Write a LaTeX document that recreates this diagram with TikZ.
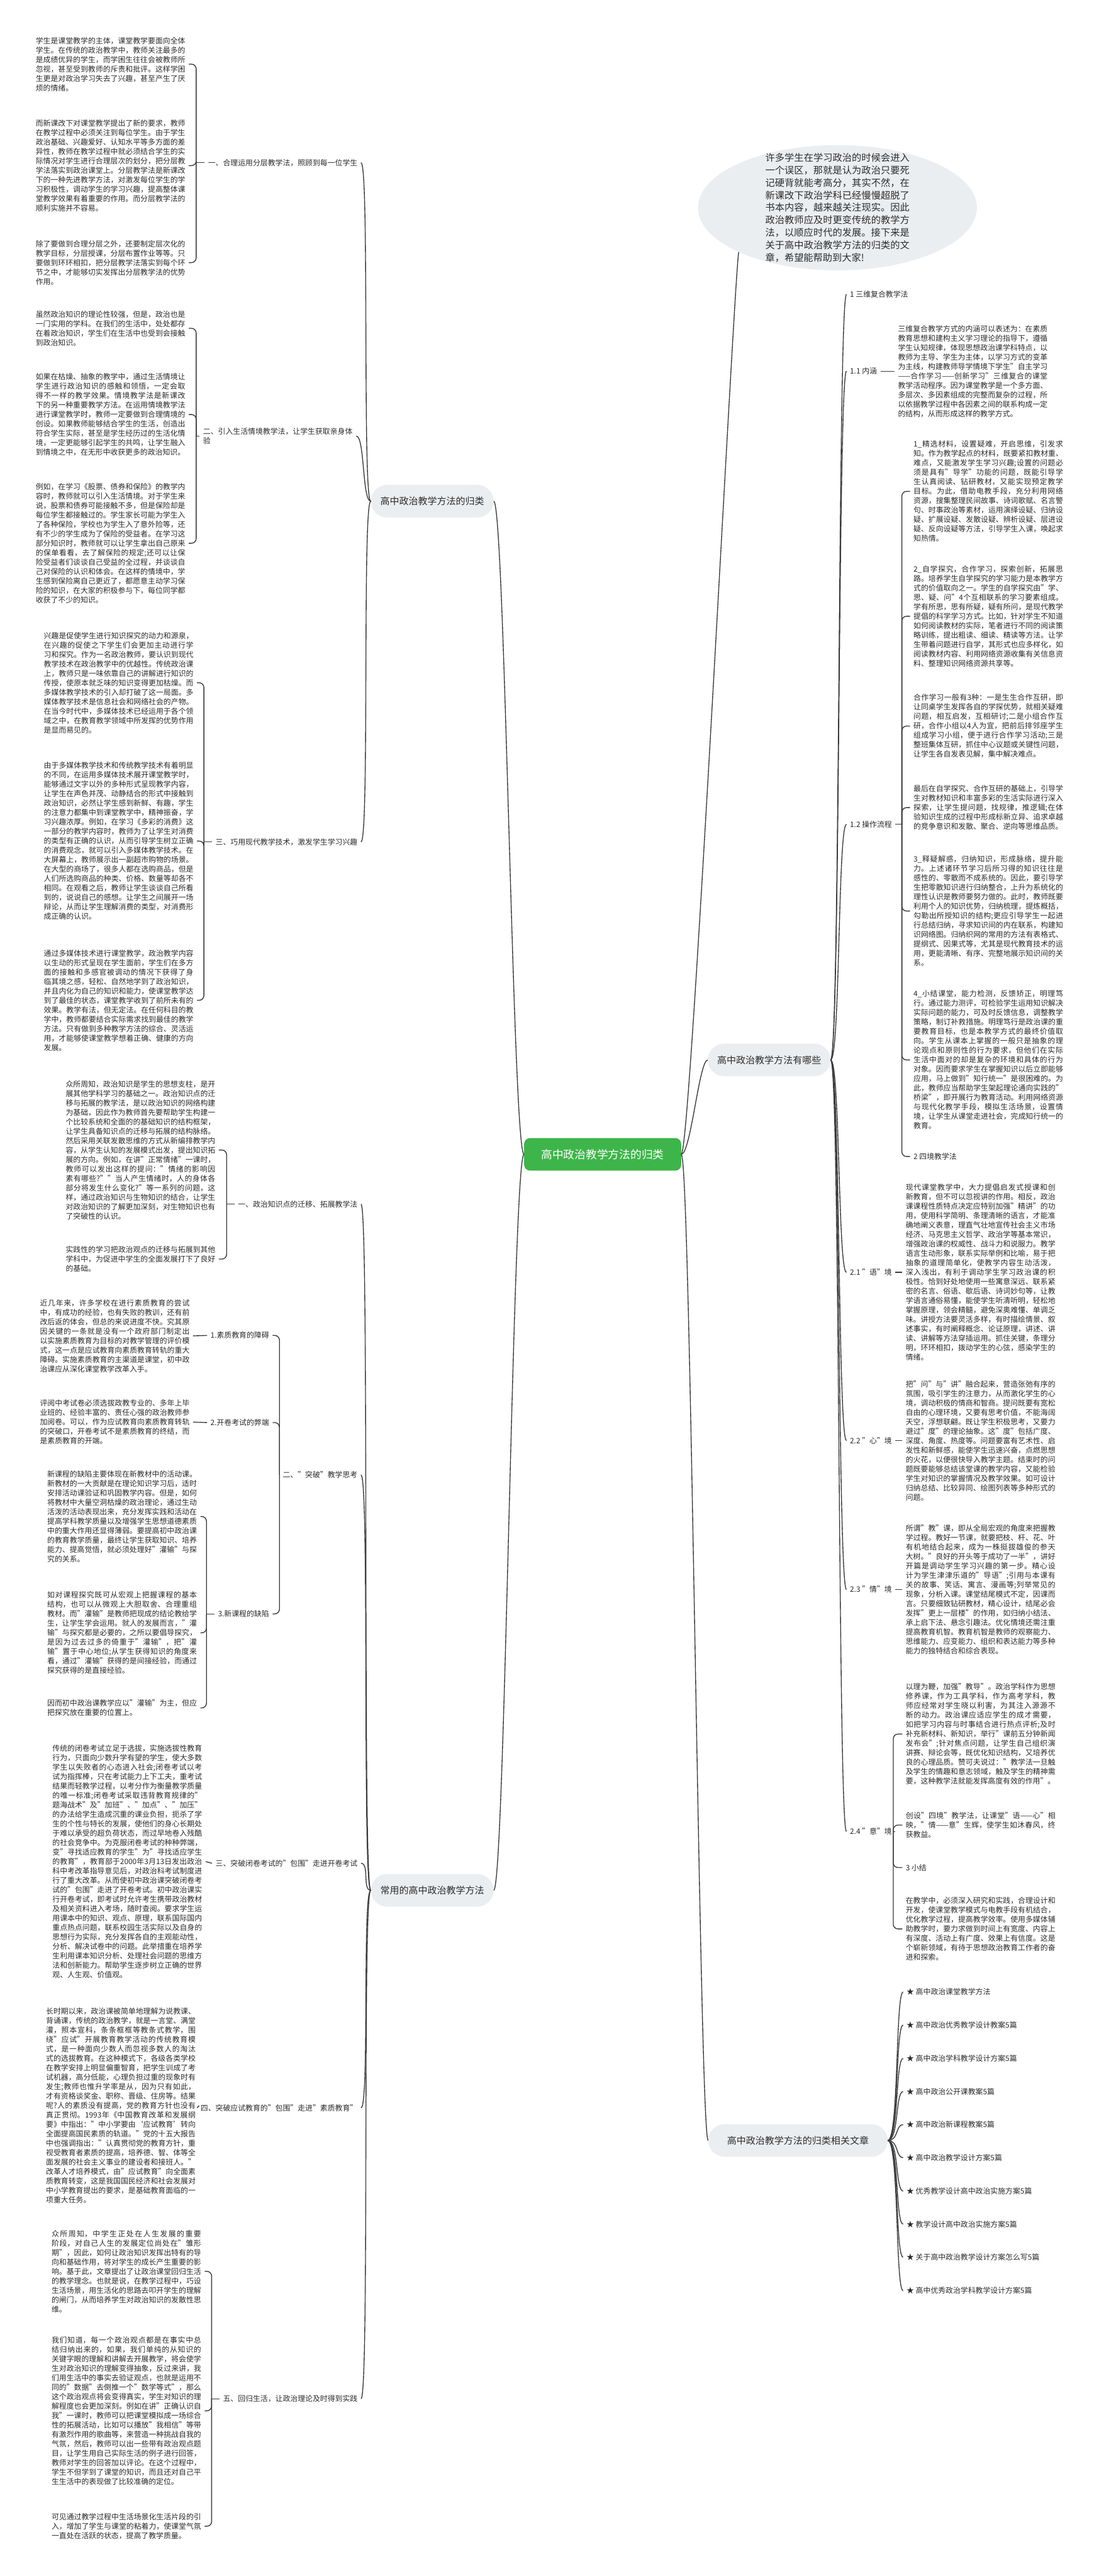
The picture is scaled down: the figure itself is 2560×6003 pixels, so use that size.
\documentclass[tikz,border=0pt]{standalone}
\usepackage{fontspec}
\setmainfont{Noto Sans CJK SC}
\XeTeXlinebreaklocale "zh"
\XeTeXlinebreakskip=0pt plus 1pt
\setlength{\parindent}{0pt}
\usetikzlibrary{shapes.geometric}
\definecolor{linegrey}{HTML}{3A3A3A}
\definecolor{topicgrey}{HTML}{EBEEF1}
\definecolor{rootgreen}{HTML}{3DB54A}
\definecolor{inkgrey}{HTML}{2B2B2B}
\tikzset{
  body text/.style={
    anchor=west,
    text width=348.5pt,
    align=justify,
    inner xsep=8pt,
    inner ysep=0pt,
    font=\fontsize{17.4}{22}\selectfont,
    text=inkgrey,
  },
  branch label/.style={
    inner xsep=8pt,
    inner ysep=2pt,
    font=\fontsize{17.4}{22}\selectfont,
    text=inkgrey,
  },
  topic node/.style={
    rounded corners=38pt,
    fill=topicgrey,
    minimum height=76pt,
    inner xsep=22pt,
    font=\fontsize{22}{26}\selectfont,
    text=inkgrey,
  },
  root node/.style={
    rounded corners=14pt,
    fill=rootgreen,
    minimum height=76pt,
    inner xsep=40pt,
    font=\fontsize{26}{30}\selectfont,
    text=white,
  },
  link/.style={draw=linegrey, line width=2pt},
  brace link/.style={link, rounded corners=11pt},
}

\begin{document}
\begin{tikzpicture}[x=1pt, y=-1pt]
      \fill[white] (0,0) rectangle (2560,6003);
      \useasboundingbox (0,0) rectangle (2560,6003);

      % central topic and main branches
      \node[root node] (root) at (1404,2690) {高中政治教学方法的归类};
      \node[topic node] (t1) at (1007,1168) {高中政治教学方法的归类};
      \node[topic node] (t2) at (1007,4405) {常用的高中政治教学方法};
      \node[topic node] (t3) at (1792,2470) {高中政治教学方法有哪些};
      \node[topic node, inner xsep=44pt] (t4) at (1859,4988) {高中政治教学方法的归类相关文章};
      \node[ellipse, fill=topicgrey, minimum width=650pt, minimum height=292pt, inner sep=0pt] (bubble) at (1951,484) {};
      \node[text width=336pt, align=justify, inner sep=0pt, font=\fontsize{22.3}{29}\selectfont, text=inkgrey] (intro) at (bubble.center) {许多学生在学习政治的时候会进入一个误区，那就是认为政治只要死记硬背就能考高分，其实不然，在新课改下政治学科已经慢慢超脱了书本内容，越来越关注现实。因此政治教师应及时更变传统的教学方法，以顺应时代的发展。接下来是关于高中政治教学方法的归类的文章，希望能帮助到大家!};

      % left branch: 高中政治教学方法的归类
      \node[branch label, anchor=east] (l1) at (841,379) {一、合理运用分层教学法，照顾到每一位学生};
      \node[body text, align=left, inner ysep=2pt] (l2) at (465,1016) {二、引入生活情境教学法，让学生获取亲身体验};
      \node[branch label, anchor=east] (l3) at (841,1962) {三、巧用现代教学技术，激发学生学习兴趣};

      \node[body text] (b1) at (75,149.5) {学生是课堂教学的主体，课堂教学要面向全体学生。在传统的政治教学中，教师关注最多的是成绩优异的学生，而学困生往往会被教师所忽视，甚至受到教师的斥责和批评。这样学困生更是对政治学习失去了兴趣，甚至产生了厌烦的情绪。};
      \node[body text] (b2) at (75,386) {而新课改下对课堂教学提出了新的要求，教师在教学过程中必须关注到每位学生。由于学生政治基础、兴趣爱好、认知水平等多方面的差异性，教师在教学过程中就必须结合学生的实际情况对学生进行合理层次的划分，把分层教学法落实到政治课堂上。分层教学法是新课改下的一种先进教学方法，对激发每位学生的学习积极性，调动学生的学习兴趣，提高整体课堂教学效果有着重要的作用。而分层教学法的顺利实施并不容易。};
      \node[body text] (b3) at (75,612) {除了要做到合理分层之外，还要制定层次化的教学目标，分层授课，分层布置作业等等。只要做到环环相扣，把分层教学法落实到每个环节之中，才能够切实发挥出分层教学法的优势作用。};
      \node[body text] (b4) at (75,765) {虽然政治知识的理论性较强，但是，政治也是一门实用的学科。在我们的生活中，处处都存在着政治知识，学生们在生活中也受到会接触到政治知识。};
      \node[body text] (b5) at (75,966) {如果在枯燥、抽象的教学中，通过生活情境让学生进行政治知识的感触和领悟，一定会取得不一样的教学效果。情境教学法是新课改下的另一种重要教学方法。在运用情境教学法进行课堂教学时，教师一定要做到合理情境的创设。如果教师能够结合学生的生活，创造出符合学生实际，甚至是学生经历过的生活化情境，一定更能够引起学生的共鸣，让学生融入到情境之中，在无形中收获更多的政治知识。};
      \node[body text] (b6) at (75,1266) {例如，在学习《股票、债券和保险》的教学内容时，教师就可以引入生活情境。对于学生来说，股票和债券可能接触不多，但是保险却是每位学生都接触过的。学生家长可能为学生入了各种保险，学校也为学生入了意外险等，还有不少的学生成为了保险的受益者。在学习这部分知识时，教师就可以让学生拿出自己原来的保单看看，去了解保险的规定;还可以让保险受益者们谈谈自己受益的全过程，并谈谈自己对保险的认识和体会。在这样的情境中，学生感到保险离自己更近了，都愿意主动学习保险的知识，在大家的积极参与下，每位同学都收获了不少的知识。};
      \node[body text] (b7) at (94,1591) {兴趣是促使学生进行知识探究的动力和源泉，在兴趣的促使之下学生们会更加主动进行学习和探究。作为一名政治教师，要认识到现代教学技术在政治教学中的优越性。传统政治课上，教师只是一味依靠自己的讲解进行知识的传授，使原本就乏味的知识变得更加枯燥。而多媒体教学技术的引入却打破了这一局面。多媒体教学技术是信息社会和网络社会的产物。在当今时代中，多媒体技术已经运用于各个领域之中，在教育教学领域中所发挥的优势作用是显而易见的。};
      \node[body text] (b8) at (94,1960) {由于多媒体教学技术和传统教学技术有着明显的不同，在运用多媒体技术展开课堂教学时，能够通过文字以外的多种形式呈现教学内容，让学生在声色并茂、动静结合的形式中接触到政治知识，必然让学生感到新鲜、有趣，学生的注意力都集中到课堂教学中，精神振奋，学习兴趣浓厚。例如，在学习《多彩的消费》这一部分的教学内容时，教师为了让学生对消费的类型有正确的认识，从而引导学生树立正确的消费观念，就可以引入多媒体教学技术。在大屏幕上，教师展示出一副超市购物的场景。在大型的商场了，很多人都在选购商品，但是人们所选购商品的种类、价格、数量等却各不相同。在观看之后，教师让学生谈谈自己所看到的，说说自己的感想。让学生之间展开一场辩论，从而让学生理解消费的类型，对消费形成正确的认识。};
      \node[body text] (b9) at (94,2331) {通过多媒体技术进行课堂教学，政治教学内容以生动的形式呈现在学生面前，学生们在多方面的接触和多感官被调动的情况下获得了身临其境之感，轻松、自然地学到了政治知识，并且内化为自己的知识和能力，使课堂教学达到了最佳的状态，课堂教学收到了前所未有的效果。教学有法，但无定法。在任何科目的教学中，教师都要结合实际需求找到最佳的教学方法。只有做到多种教学方法的综合、灵活运用，才能够使课堂教学想着正确、健康的方向发展。};

      % left branch: 常用的高中政治教学方法
      \node[branch label, anchor=east] (m1) at (841,2806) {一、政治知识点的迁移、拓展教学法};
      \node[branch label, anchor=east] (m2) at (841,3437) {二、"突破"教学思考};
      \node[branch label, anchor=east] (m21) at (635,3112) {1.素质教育的障碍};
      \node[branch label, anchor=east] (m22) at (635,3315) {2.开卷考试的弊端};
      \node[branch label, anchor=east] (m23) at (635,3761) {3.新课程的缺陷};
      \node[branch label, anchor=east] (m3) at (841,4342) {三、突破闭卷考试的"包围"走进开卷考试};
      \node[branch label, anchor=east] (m4) at (841,4912) {四、突破应试教育的"包围"走进"素质教育"};
      \node[branch label, anchor=east] (m5) at (841,5590) {五、回归生活，让政治理论及时得到实践};

      \node[body text] (b10) at (145,2680) {众所周知，政治知识是学生的思想支柱，是开展其他学科学习的基础之一。政治知识点的迁移与拓展的教学法，是以政治知识的网络构建为基础，因此作为教师首先要帮助学生构建一个比较系统和全面的的基础知识的结构框架，让学生具备知识点的迁移与拓展的结构脉络。然后采用关联发散思维的方式从新编排教学内容，从学生认知的发展模式出发，提出知识拓展的方向。例如，在讲"正常情绪"一课时，教师可以发出这样的提问："情绪的影响因素有哪些?""当人产生情绪时，人的身体各部分将发生什么变化?"等一系列的问题，这样，通过政治知识与生物知识的结合，让学生对政治知识的了解更加深刻，对生物知识也有了突破性的认识。};
      \node[body text] (b11) at (145,2934) {实践性的学习把政治观点的迁移与拓展到其他学科中，为促进中学生的全面发展打下了良好的基础。};
      \node[body text] (b12) at (85,3113) {近几年来，许多学校在进行素质教育的尝试中，有成功的经验，也有失败的教训，还有前改后返的体会，但总的来说进度不快。究其原因关键的一条就是没有一个政府部门制定出以实施素质教育为目标的对教学管理的评价模式，这一点是应试教育向素质教育转轨的重大障碍。实施素质教育的主渠道是课堂，初中政治课应从深化课堂教学改革入手。};
      \node[body text] (b13) at (85,3314) {评阅中考试卷必须选拔政教专业的、多年上毕业班的、经验丰富的、责任心强的政治教师参加阅卷。可以，作为应试教育向素质教育转轨的突破口，开卷考试不是素质教育的终结，而是素质教育的开端。};
      \node[body text] (b14) at (102,3534) {新课程的缺陷主要体现在新教材中的活动课。新教材的一大贡献是在理论知识学习后，适时安排活动课验证和巩固教学内容。但是，如何将教材中大量空洞枯燥的政治理论，通过生动活泼的活动表现出来，充分发挥实践和活动在提高学科教学质量以及增强学生思想道德素质中的重大作用还显得薄弱。要提高初中政治课的教育教学质量，最终让学生获取知识、培养能力、提高觉悟，就必须处理好"灌输"与探究的关系。};
      \node[body text] (b15) at (102,3805) {如对课程探究既可从宏观上把握课程的基本结构，也可以从微观上大胆取舍、合理重组教材。而"灌输"是教师把现成的结论教给学生，让学生学会运用。就人的发展而言，"灌输"与探究都是必要的，之所以要倡导探究，是因为过去过多的倚重于"灌输"，把"灌输"置于中心地位;从学生获得知识的角度来看，通过"灌输"获得的是间接经验，而通过探究获得的是直接经验。};
      \node[body text] (b16) at (102,3980) {因而初中政治课教学应以"灌输"为主，但应把探究放在重要的位置上。};
      \node[body text] (b17) at (114,4338) {传统的闭卷考试立足于选拔，实施选拔性教育行为，只面向少数升学有望的学生，使大多数学生以失败者的心态进入社会;闭卷考试以考试为指挥棒，只在考试能力上下工夫，重考试结果而轻教学过程，以考分作为衡量教学质量的唯一标准;闭卷考试采取违背教育规律的"题海战术"及"加班"、"加点"、"加压"的办法给学生造成沉重的课业负担，扼杀了学生的个性与特长的发展，使他们的身心长期处于难以承受的超负荷状态，而过早地卷入残酷的社会竞争中。为克服闭卷考试的种种弊端，变"寻找适应教育的学生"为"寻找适应学生的教育"，教育部于2000年3月13日发出政治科中考改革指导意见后，对政治科考试制度进行了重大改革。从而使初中政治课突破闭卷考试的"包围"走进了开卷考试。初中政治课实行开卷考试，即考试时允许考生携带政治教材及相关资料进入考场，随时查阅。要求学生运用课本中的知识、观点、原理，联系国际国内重点热点问题，联系校园生活实际以及自身的思想行为实际，充分发挥各自的主观能动性，分析、解决试卷中的问题。此举措重在培养学生利用课本知识分析、处理社会问题的思维方法和创新能力。帮助学生逐步树立正确的世界观、人生观、价值观。};
      \node[body text] (b18) at (99,4907) {长时期以来，政治课被简单地理解为说教课、背诵课，传统的政治教学，就是一言堂、满堂灌，照本宣科，条条框框等教条式教学，围绕"应试"开展教育教学活动的传统教育模式，是一种面向少数人而忽视多数人的淘汰式的选拔教育。在这种模式下，各级各类学校在教学安排上明显偏重智育，把学生训成了考试机器，高分低能，心理负担过重的现象时有发生;教师也惟升学率是从，因为只有如此，才有资格谈奖金、职称、晋级、住房等。结果呢?人的素质没有提高，党的教育方针也没有真正贯彻。1993年《中国教育改革和发展纲要》中指出："中小学要由‘应试教育’转向全面提高国民素质的轨道。"党的十五大报告中也强调指出："认真贯彻党的教育方针，重视受教育者素质的提高，培养德、智、体等全面发展的社会主义事业的建设者和接班人。"改革人才培养模式，由"应试教育"向全面素质教育转变，这是我国国民经济和社会发展对中小学教育提出的要求，是基础教育面临的一项重大任务。};
      \node[body text] (b19) at (112,5293) {众所周知，中学生正处在人生发展的重要阶段，对自己人生的发展定位尚处在"雏形期"，因此，如何让政治知识发挥出特有的导向和基础作用，将对学生的成长产生重要的影响。基于此，文章提出了让政治课堂回归生活的教学理念。也就是说，在教学过程中，巧设生活场景，用生活化的思路去叩开学生的理解的闸门，从而培养学生对政治知识的发散性思维。};
      \node[body text] (b20) at (112,5618) {我们知道，每一个政治观点都是在事实中总结归纳出来的，如果，我们单纯的从知识的关键字眼的理解和讲解去开展教学，将会使学生对政治知识的理解变得抽象，反过来讲，我们用生活中的事实去验证观点，也就是运用不同的"数据"去倒推一个"数学等式"，那么这个政治观点将会变得真实，学生对知识的理解程度也会更加深刻。例如在讲"正确认识自我"一课时，教师可以把课堂模拟成一场综合性的拓展活动，比如可以播放"我相信"等带有激烈作用的歌曲等，来营造一种挑战自我的气氛，然后，教师可以出一些带有政治观点题目，让学生用自己实际生活的例子进行回答，教师对学生的回答加以评论。在这个过程中，学生不但学到了课堂的知识，而且还对自己平生生活中的表现做了比较准确的定位。};
      \node[body text] (b21) at (112,5887) {可见通过教学过程中生活场景化生活片段的引入，增加了学生与课堂的粘着力，使课堂气氛一直处在活跃的状态，提高了教学质量。};

      % right branch: 高中政治教学方法有哪些
      \node[branch label, anchor=west] (r1) at (1972,686) {1 三维复合教学法};
      \node[branch label, anchor=west] (r11) at (1972,865) {1.1 内涵};
      \node[branch label, anchor=west] (r12) at (1972,1921) {1.2 操作流程};
      \node[branch label, anchor=west] (r2) at (2120,2695) {2 四境教学法};
      \node[branch label, anchor=west] (r21) at (1972,2965) {2.1 "语"境};
      \node[branch label, anchor=west] (r22) at (1972,3357) {2.2 "心"境};
      \node[branch label, anchor=west] (r23) at (1972,3704) {2.3 "情"境};
      \node[branch label, anchor=west] (r24) at (1972,4268) {2.4 "意"境};
      \node[branch label, anchor=west] (r3) at (2102,4352) {3 小结};

      \node[body text] (rb11) at (2084,865) {三维复合教学方式的内涵可以表述为：在素质教育思想和建构主义学习理论的指导下，遵循学生认知规律，体现思想政治课学科特点，以教师为主导、学生为主体，以学习方式的变革为主线，构建教师导学情境下学生"自主学习——合作学习——创新学习"三维复合的课堂教学活动程序。因为课堂教学是一个多方面、多层次、多因素组成的完整而复杂的过程，所以依据教学过程中各因素之间的联系构成一定的结构，从而形成这样的教学方式。};
      \node[body text] (rb1) at (2120,1145) {1\_精选材料，设置疑难，开启思维，引发求知。作为教学起点的材料，既要紧扣教材重、难点，又能激发学生学习兴趣;设置的问题必须是具有"导学"功能的问题，既能引导学生认真阅读、钻研教材，又能实现预定教学目标。为此，借助电教手段，充分利用网络资源，搜集整理民间故事、诗词歌赋、名言警句、时事政治等素材，运用演绎设疑、归纳设疑、扩展设疑、发散设疑、辨析设疑、层进设疑、反向设疑等方法，引导学生入课，唤起求知热情。};
      \node[body text] (rb2) at (2120,1436) {2\_自学探究，合作学习，探索创新，拓展思路。培养学生自学探究的学习能力是本教学方式的价值取向之一。学生的自学探究由"学、思、疑、问"4个互相联系的学习要素组成。学有所思，思有所疑，疑有所问，是现代教学提倡的科学学习方式。比如，针对学生不知道如何阅读教材的实际，笔者进行不同的阅读策略训练，提出粗读、细读、精读等方法。让学生带着问题进行自学，其形式也应多样化，如阅读教材内容、利用网络资源收集有关信息资料、整理知识网络资源共享等。};
      \node[body text] (rb3) at (2120,1692) {合作学习一般有3种：一是生生合作互研，即让同桌学生发挥各自的学探优势，就相关疑难问题，相互启发，互相研讨;二是小组合作互研，合作小组以4人为宜，把前后排邻座学生组成学习小组，便于进行合作学习活动;三是整班集体互研，抓住中心议题或关键性问题，让学生各自发表见解，集中解决难点。};
      \node[body text] (rb4) at (2120,1882) {最后在自学探究、合作互研的基础上，引导学生对教材知识和丰富多彩的生活实际进行深入探索，让学生提问题，找规律，推逻辑;在体验知识生成的过程中形成标新立异、追求卓越的竞争意识和发散、聚合、逆向等思维品质。};
      \node[body text] (rb5) at (2120,2123) {3\_释疑解惑，归纳知识，形成脉络，提升能力。上述诸环节学习后所习得的知识往往是感性的、零散而不成系统的。因此，要引导学生把零散知识进行归纳整合，上升为系统化的理性认识是教师要努力做的。此时，教师既要利用个人的知识优势，归纳梳理，提炼概括，勾勒出所授知识的结构;更应引导学生一起进行总结归纳，寻求知识间的内在联系，构建知识网络图。归纳织网的常用的方法有表格式、提纲式、因果式等，尤其是现代教育技术的运用，更能清晰、有序、完整地展示知识间的关系。};
      \node[body text] (rb6) at (2120,2470) {4\_小结课堂，能力检测，反馈矫正，明理笃行。通过能力测评，可检验学生运用知识解决实际问题的能力，可及时反馈信息，调整教学策略，制订补救措施。明理笃行是政治课的重要教育目标，也是本教学方式的最终价值取向。学生从课本上掌握的一般只是抽象的理论观点和原则性的行为要求，但他们在实际生活中面对的却是复杂的环境和具体的行为对象。因而要求学生在掌握知识以后立即能够应用，马上做到"知行统一"是很困难的。为此，教师应当帮助学生架起理论通向实践的"桥梁"，即开展行为教育活动。利用网络资源与现代化教学手段，模拟生活场景，设置情境，让学生从课堂走进社会，完成知行统一的教育。};
      \node[body text] (rb21) at (2102,2965) {现代课堂教学中，大力提倡启发式授课和创新教育，但不可以忽视讲的作用。相反，政治课课程性质特点决定应特别加强"精讲"的功用，使用科学简明、条理清晰的语言，才能准确地阐义表意，理直气壮地宣传社会主义市场经济、马克思主义哲学、政治学等基本常识，增强政治课的权威性、战斗力和说服力。教学语言生动形象，联系实际举例和比喻，易于把抽象的道理简单化，使教学内容生动活泼，深入浅出，有利于调动学生学习政治课的积极性。恰到好处地使用一些寓意深远、联系紧密的名言、俗语、歇后语、诗词妙句等，让教学语言通俗易懂，能使学生听清听明，轻松地掌握原理，领会精髓，避免深奥难懂、单调乏味。讲授方法要灵活多样，有时描绘情景、叙述事实，有时阐释概念、论证原理，讲述、讲读、讲解等方法穿插运用。抓住关键，条理分明，环环相扣，拨动学生的心弦，感染学生的情绪。};
      \node[body text] (rb22) at (2102,3357) {把"问"与"讲"融合起来，营造张弛有序的氛围，吸引学生的注意力，从而激化学生的心境，调动积极的情商和智商。提问既要有宽松自由的心理环境，又要有思考价值，不能海阔天空，浮想联翩。既让学生积极思考，又要力避过"度"的理论抽象。这"度"包括广度、深度、角度、热度等。问题要富有艺术性、启发性和新鲜感，能使学生迅速兴奋，点燃思想的火花，以便很快导入教学主题。结束时的问题既要能够总结该堂课的教学内容，又能检验学生对知识的掌握情况及教学效果。如可设计归纳总结、比较异同、绘图列表等多种形式的问题。};
      \node[body text] (rb23) at (2102,3704) {所谓"教"课，即从全局宏观的角度来把握教学过程。教好一节课，就要把枝、杆、花、叶有机地结合起来，成为一株挺拔雄俊的参天大树。"良好的开头等于成功了一半"，讲好开篇是调动学生学习兴趣的第一步。精心设计为学生津津乐道的"导语";引用与本课有关的故事、笑话、寓言、漫画等;列举常见的现象，分析入课。课堂结尾模式不定，因课而言。只要细致钻研教材，精心设计，结尾必会发挥"更上一层楼"的作用，如归纳小结法、承上启下法、悬念引趣法。优化情境还需注重提高教育机智。教育机智是教师的观察能力、思维能力、应变能力、组织和表达能力等多种能力的独特结合和综合表现。};
      \node[body text] (rs1) at (2102,4041) {以理为鞭，加强"教导"。政治学科作为思想修养课，作为工具学科，作为高考学科，教师应经常对学生晓以利害，为其注入源源不断的动力。政治课应适应学生的成才需要，如把学习内容与时事结合进行热点评析;及时补充新材料、新知识，举行"课前五分钟新闻发布会";针对焦点问题，让学生自己组织演讲赛、辩论会等，既优化知识结构，又培养优良的心理品质。赞可夫说过："教学法一旦触及学生的情趣和意志领域，触及学生的精神需要，这种教学法就能发挥高度有效的作用"。};
      \node[body text] (rs2) at (2102,4253) {创设"四境"教学法，让课堂"语——心"相映，"情——意"生辉，使学生如沐春风，终获教益。};
      \node[body text] (rs4) at (2102,4495) {在教学中，必须深入研究和实践，合理设计和开发，使课堂教学模式与电教手段有机结合，优化教学过程，提高教学效率。使用多媒体辅助教学时，要力求做到时间上有宽度、内容上有深度、活动上有广度、效果上有信度。这是个崭新领域，有待于思想政治教育工作者的奋进和探索。};

      % related articles
      \node[branch label, anchor=west] (a1) at (2104,4642) {★ 高中政治课堂教学方法};
      \node[branch label, anchor=west] (a2) at (2104,4719) {★ 高中政治优秀教学设计教案5篇};
      \node[branch label, anchor=west] (a3) at (2104,4797) {★ 高中政治学科教学设计方案5篇};
      \node[branch label, anchor=west] (a4) at (2104,4874) {★ 高中政治公开课教案5篇};
      \node[branch label, anchor=west] (a5) at (2104,4951) {★ 高中政治新课程教案5篇};
      \node[branch label, anchor=west] (a6) at (2104,5028) {★ 高中政治教学设计方案5篇};
      \node[branch label, anchor=west] (a7) at (2104,5106) {★ 优秀教学设计高中政治实施方案5篇};
      \node[branch label, anchor=west] (a8) at (2104,5183) {★ 教学设计高中政治实施方案5篇};
      \node[branch label, anchor=west] (a9) at (2104,5260) {★ 关于高中政治教学设计方案怎么写5篇};
      \node[branch label, anchor=west] (a10) at (2104,5338) {★ 高中优秀政治学科教学设计方案5篇};

      % brace points
      \coordinate (k1) at (457,379);
      \coordinate (k2) at (457,1016);
      \coordinate (k3) at (475,1962);
      \coordinate (km1) at (528,2806);
      \coordinate (km2) at (651,3437);
      \coordinate (km23) at (481,3761);
      \coordinate (km5) at (493,5590);
      \coordinate (kr12) at (2101,1921);
      \coordinate (kr24) at (2081,4268);

      % curved links
      \draw[link] (root.west) .. controls +(-26,0) and +(26,0) .. (t1.east);
      \draw[link] (root.west) .. controls +(-26,0) and +(26,0) .. (t2.east);
      \draw[link] (root.east) .. controls +(22,0) and +(-20,0) .. (t3.west);
      \draw[link] (root.east) .. controls +(22,0) and +(-20,0) .. (t4.west);
      \draw[link] (root.east) .. controls +(22,0) and +(-10,40) .. (bubble.south west);
      \foreach \c in {l1,l2,l3}
        \draw[link] (t1.west) .. controls +(-20,0) and +(20,0) .. (\c.east);
      \foreach \c in {m1,m2,m3,m4,m5}
        \draw[link] (t2.west) .. controls +(-20,0) and +(20,0) .. (\c.east);
      \foreach \c in {r1,r11,r12,r21,r22,r23,r24}
        \draw[link] (t3.east) .. controls +(22,0) and +(-20,0) .. (\c.west);
      \foreach \c in {a1,a2,a3,a4,a5,a6,a7,a8,a9,a10}
        \draw[link] (t4.east) .. controls +(26,0) and +(-18,0) .. (\c.west);

      % braces
      \draw[link] (l1.west) -- (k1);
      \draw[link] (l2.west) -- (k2);
      \draw[link] (l3.west) -- (k3);
      \draw[link] (m1.west) -- (km1);
      \draw[link] (m2.west) -- (km2);
      \draw[link] (m23.west) -- (km23);
      \draw[link] (m5.west) -- (km5);
      \draw[link] (r12.east) -- (kr12);
      \draw[link] (r24.east) -- (kr24);
      \foreach \b in {b1,b2,b3} \draw[brace link] (k1) |- (\b.east);
      \foreach \b in {b4,b5,b6} \draw[brace link] (k2) |- (\b.east);
      \foreach \b in {b7,b8,b9} \draw[brace link] (k3) |- (\b.east);
      \foreach \b in {b10,b11} \draw[brace link] (km1) |- (\b.east);
      \foreach \b in {m21,m22,m23} \draw[brace link] (km2) |- (\b.east);
      \foreach \b in {b14,b15,b16} \draw[brace link] (km23) |- (\b.east);
      \foreach \b in {b19,b20,b21} \draw[brace link] (km5) |- (\b.east);
      \foreach \b in {rb1,rb2,rb3,rb4,rb5,rb6,r2} \draw[brace link] (kr12) |- (\b.west);
      \foreach \b in {rs1,rs2,r3,rs4} \draw[brace link] (kr24) |- (\b.west);

      % straight links
      \draw[link] (m21.west) -- (b12.east);
      \draw[link] (m22.west) -- (b13.east);
      \draw[link] (m3.west) -- (b17.east);
      \draw[link] (m4.west) -- (b18.east);
      \draw[link] (r11.east) -- (rb11.west);
      \draw[link] (r21.east) -- (rb21.west);
      \draw[link] (r22.east) -- (rb22.west);
      \draw[link] (r23.east) -- (rb23.west);
    \end{tikzpicture}
\end{document}
